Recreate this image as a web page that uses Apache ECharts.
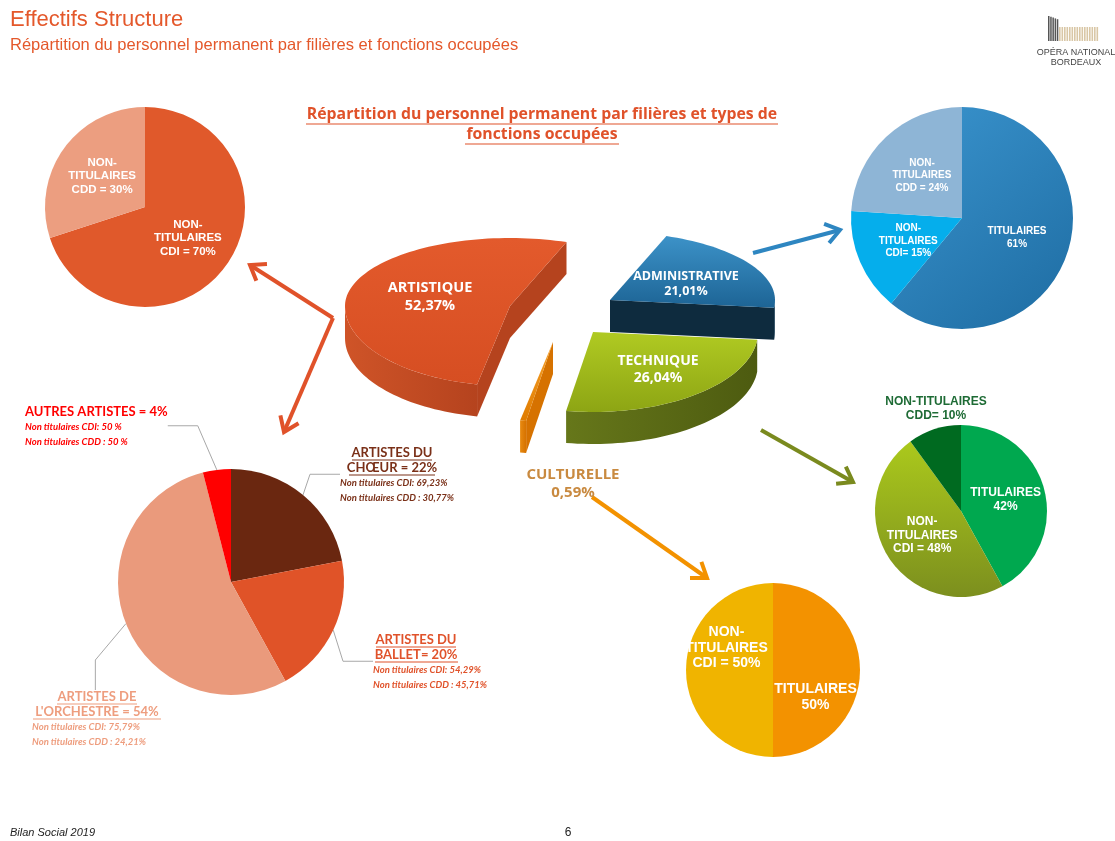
<!DOCTYPE html>
<html>
<head>
<meta charset="utf-8">
<script src="https://cdn.jsdelivr.net/npm/echarts@6/dist/echarts.min.js"></script>
<style>
html, body { margin: 0; padding: 0; background: #fff; }
#main { width: 1115px; height: 841px; }
</style>
</head>
<body>
<div id="main"></div>
<script>
// filières (camembert central)
var filieres = ['ADMINISTRATIVE', 'TECHNIQUE', 'CULTURELLE', 'ARTISTIQUE'];
var filierePcts = [21.01, 26.04, 0.59, 52.37];

// artistique : contrats
var artContrats = ['NON-\nTITULAIRES\nCDI = ', 'NON-\nTITULAIRES\nCDD = '];
var artContratPcts = [70, 30];

// administrative
var adminContrats = ['TITULAIRES\n', 'NON-\nTITULAIRES\nCDI= ', 'NON-\nTITULAIRES\nCDD = '];
var adminPcts = [61, 15, 24];

// artistique : métiers
var artMetiers = ['ARTISTES DU\nCHŒUR = ', 'ARTISTES DU\nBALLET= ', 'ARTISTES DE\nL\'ORCHESTRE = ', 'AUTRES ARTISTES = '];
var artMetierPcts = [22, 20, 54, 4];
var artMetierCDI = ['69,23%', '54,29%', '75,79%', '50 %'];
var artMetierCDD = ['30,77%', '45,71%', '24,21%', '50 %'];

// technique
var techContrats = ['TITULAIRES\n', 'NON-\nTITULAIRES\nCDI = ', 'NON-TITULAIRES\nCDD= '];
var techPcts = [42, 48, 10];

// culturelle
var cultContrats = ['TITULAIRES\n', 'NON-\nTITULAIRES\nCDI = '];
var cultPcts = [50, 50];

var chart = echarts.init(document.getElementById('main'));

// --- camembert 3D central (série custom) ---
var pie3d = { rx: 165, ryBack: 68, ryFront: 80, depth: 32, startDeg: 20 };
var filiereApex = [[610, 300], [593, 332], [553, 342], [510, 306]];
var filiereLabelShift = [[76, -16], [65, 38], [20, 142], [-80, -9]];
var filiereFontSize = [12.5, 14, 15, 14.5];
var filiereTop = [['#3C92C8', '#1D6495'], ['#B0CA22', '#8DA514'], ['#F6A12A', '#E07C00'], ['#E35A2C', '#D64E22']];
var filiereWall = ['#0E2B3E', '#4D5B10', '#D67200', '#B5431E'];
var filiereWallLight = ['#173E58', '#66771A', '#E88A10', '#CF5428'];

var acc = pie3d.startDeg;
var filiereData = filierePcts.map(function (v, i) {
    var s = acc;
    acc += v * 3.6;
    return { name: filieres[i], value: [v, s, acc] };
});

var fmtPct = function (v) {
    return v.toFixed(2).replace('.', ',') + '%';
};

var renderPie3d = function (params, api) {
    var i = params.dataIndex;
    var pct = api.value(0), a0 = api.value(1), a1 = api.value(2);
    var ax = filiereApex[i][0], ay = filiereApex[i][1];
    var d = pie3d.depth;
    var pt = function (deg, dz) {
        var r = deg * Math.PI / 180, c = Math.cos(r);
        return [ax + pie3d.rx * Math.sin(r), ay - (c > 0 ? pie3d.ryBack : pie3d.ryFront) * c + (dz || 0)];
    };
    var arc = function (from, to, dz) {
        var pts = [];
        var n = Math.max(2, Math.ceil((to - from) / 2));
        for (var k = 0; k <= n; k++) {
            pts.push(pt(from + (to - from) * k / n, dz));
        }
        return pts;
    };
    var children = [];
    // parois radiales visibles
    [[a0, a0 - 90], [a1, a1 + 90]].forEach(function (e) {
        if (Math.cos(e[1] * Math.PI / 180) < -0.01) {
            var p = pt(e[0]);
            children.push({
                type: 'polygon',
                shape: { points: [[ax, ay], p, [p[0], p[1] + d], [ax, ay + d]] },
                style: { fill: filiereWall[i] }
            });
        }
    });
    // paroi extérieure (face avant)
    [[90, 270], [450, 630]].forEach(function (w) {
        var s = Math.max(a0, w[0]), e = Math.min(a1, w[1]);
        if (e > s) {
            var top = arc(s, e, 0);
            var bot = arc(s, e, d).reverse();
            children.push({
                type: 'polygon',
                shape: { points: top.concat(bot) },
                style: {
                    fill: new echarts.graphic.LinearGradient(0, 0, 1, 0, [
                        { offset: 0, color: filiereWallLight[i] },
                        { offset: 1, color: filiereWall[i] }
                    ])
                }
            });
        }
    });
    // face supérieure
    children.push({
        type: 'polygon',
        shape: { points: [[ax, ay]].concat(arc(a0, a1, 0)) },
        style: {
            fill: new echarts.graphic.LinearGradient(0, 0, 0, 1, [
                { offset: 0, color: filiereTop[i][0] },
                { offset: 1, color: filiereTop[i][1] }
            ])
        }
    });
    // étiquette
    var sh = filiereLabelShift[i];
    children.push({
        type: 'text',
        style: {
            text: filieres[i] + '\n' + fmtPct(pct),
            x: ax + sh[0], y: ay + sh[1],
            fill: pct < 2 ? '#C98A40' : '#fff',
            font: 'bold ' + filiereFontSize[i] + 'px "Open Sans"',
            lineHeight: filiereFontSize[i] + 3,
            align: 'center', verticalAlign: 'middle',
            textAlign: 'center', textVerticalAlign: 'middle'
        }
    });
    return { type: 'group', children: children };
};

// --- graphiques ---
var arrow = function (pts, color, w) {
    var n = pts.length, tip = pts[n - 1], prev = pts[n - 2];
    var ang = Math.atan2(tip[1] - prev[1], tip[0] - prev[0]);
    var L = 17, sp = 0.62;
    var h1 = [tip[0] - L * Math.cos(ang - sp), tip[1] - L * Math.sin(ang - sp)];
    var h2 = [tip[0] - L * Math.cos(ang + sp), tip[1] - L * Math.sin(ang + sp)];
    return [
        { type: 'polyline', shape: { points: pts }, style: { stroke: color, lineWidth: w, fill: null } },
        { type: 'polyline', shape: { points: [h1, tip, h2] }, style: { stroke: color, lineWidth: w, fill: null } }
    ];
};

var underline = function (x1, x2, y, color) {
    return { type: 'line', shape: { x1: x1, y1: y, x2: x2, y2: y }, style: { stroke: color, lineWidth: 1.2 } };
};

var txt = function (text, x, y, font, color, align) {
    return {
        type: 'text',
        style: {
            text: text, x: x, y: y, font: font, fill: color,
            align: align || 'left', verticalAlign: 'middle',
            textAlign: align || 'left', textVerticalAlign: 'middle'
        }
    };
};

var logo = [];
for (var b = 0; b < 5; b++) {
    logo.push({ type: 'rect', shape: { x: 1048 + b * 2.2, y: 16 + b * 0.8, width: 1.5, height: 25 - b * 0.8 }, style: { fill: '#555' } });
}
for (var b2 = 0; b2 < 16; b2++) {
    logo.push({ type: 'rect', shape: { x: 1059 + b2 * 2.5, y: 27, width: 1.6, height: 14 }, style: { fill: '#D9C7A6' } });
}

var graphics = [
    txt('Effectifs Structure', 10, 20, '22px "Liberation Sans"', '#E4582B'),
    txt('Répartition du personnel permanent par filières et fonctions occupées', 10, 45, '16.5px "Liberation Sans"', '#E4582B'),
    txt('OPÉRA NATIONAL', 1076, 53, '9px "Liberation Sans"', '#444', 'center'),
    txt('BORDEAUX', 1076, 63, '9px "Liberation Sans"', '#444', 'center'),
    txt('Répartition du personnel permanent par filières et types de', 542, 114, 'bold 15.8px "Open Sans"', '#E0522A', 'center'),
    txt('fonctions occupées', 542, 134, 'bold 15.8px "Open Sans"', '#E0522A', 'center'),
    underline(306, 778, 124, '#E0522A'),
    underline(465, 619, 144, '#E0522A'),
    txt('NON-TITULAIRES', 936, 402, 'bold 12px "Liberation Sans"', '#1E6B35', 'center'),
    txt('CDD= 10%', 936, 416, 'bold 12px "Liberation Sans"', '#1E6B35', 'center'),
    txt('Bilan Social 2019', 10, 833, 'italic 11px "Liberation Sans"', '#222'),
    txt('6', 568, 833, '12px "Liberation Sans"', '#222', 'center'),
    // soulignement des titres des métiers artistiques
    underline(352, 432, 460, '#7A3018'),
    underline(349, 435, 475, '#7A3018'),
    underline(376, 456, 647, '#E0522A'),
    underline(375, 458, 662, '#E0522A'),
    underline(57, 137, 704, '#EE9D7E'),
    underline(33, 161, 719, '#EE9D7E')
].concat(logo)
 .concat(arrow([[333, 318], [250, 265]], '#E0522A', 4))
 .concat(arrow([[333, 318], [284, 432]], '#E0522A', 4))
 .concat(arrow([[753, 253], [840, 230]], '#2E86C1', 4))
 .concat(arrow([[761, 430], [853, 482]], '#7A8A1E', 4))
 .concat(arrow([[592, 497], [707, 578]], '#F39200', 4));

var insideLabel = function (size, lh) {
    return {
        position: 'inside',
        color: '#fff',
        fontFamily: 'Liberation Sans',
        fontWeight: 'bold',
        fontSize: size,
        lineHeight: lh,
        formatter: function (p) { return p.name + p.value + '%'; }
    };
};

var mkData = function (names, values, colors) {
    return values.map(function (v, i) {
        return { name: names[i], value: v, itemStyle: { color: colors[i] } };
    });
};

var metierColors = ['#6A2710', '#E05328', '#EA9A7C', '#FF0000'];
var metierTitleColors = ['#7A3018', '#E0522A', '#EE9D7E', '#FF0000'];
var metierLabelPos = [[340, 445], [373, 632], [32, 689], [25, 404]];
var metierLabelWidth = [104, 86, 130, 160];
var metierRich = {};
metierTitleColors.forEach(function (c, i) {
    metierRich['t' + i] = { color: c, fontFamily: 'Lato', fontWeight: 'bold', fontSize: 13, lineHeight: 15, align: i === 3 ? 'left' : 'center' };
    metierRich['d' + i] = { color: c, fontFamily: 'Lato', fontStyle: 'italic', fontWeight: 'bold', fontSize: 9.5, lineHeight: 15, align: 'left' };
});

var option = {
    backgroundColor: '#fff',
    animation: false,
    graphic: { elements: graphics },
    series: [
        {
            type: 'custom',
            coordinateSystem: 'none',
            renderItem: renderPie3d,
            data: filiereData
        },
        {
            type: 'pie',
            center: [145, 207],
            radius: 100,
            startAngle: 90,
            label: insideLabel(11.5, 13.5),
            labelLine: { show: false },
            data: mkData(artContrats, artContratPcts, ['#E0592B', '#EC9E80'])
        },
        {
            type: 'pie',
            center: [962, 218],
            radius: 111,
            startAngle: 90,
            label: insideLabel(10, 12.5),
            labelLine: { show: false },
            data: mkData(adminContrats, adminPcts, [
                new echarts.graphic.LinearGradient(0, 0, 1, 1, [{ offset: 0, color: '#3A94CE' }, { offset: 1, color: '#1E6CA2' }]),
                '#05AEEC', '#8EB5D6'
            ])
        },
        {
            type: 'pie',
            center: [231, 582],
            radius: 113,
            startAngle: 90,
            label: {
                show: true,
                position: 'outside',
                overflow: 'none',
                rich: metierRich,
                formatter: function (p) {
                    var i = p.dataIndex;
                    var lines = artMetiers[i].split('\n');
                    lines[lines.length - 1] += p.value + '%';
                    var out = lines.map(function (l) { return '{t' + i + '|' + l + '}'; });
                    out.push('{d' + i + '|Non titulaires CDI: ' + artMetierCDI[i] + '}');
                    out.push('{d' + i + '|Non titulaires CDD : ' + artMetierCDD[i] + '}');
                    return out.join('\n');
                }
            },
            labelLine: { show: true, lineStyle: { color: '#A8A8A8', width: 1 } },
            labelLayout: function (p) {
                var pos = metierLabelPos[p.dataIndex];
                return { x: pos[0], y: pos[1], align: 'left', verticalAlign: 'top' };
            },
            data: mkData(artMetiers, artMetierPcts, metierColors).map(function (d, i) {
                d.label = { width: metierLabelWidth[i] };
                return d;
            })
        },
        {
            type: 'pie',
            center: [961, 511],
            radius: 86,
            startAngle: 90,
            label: insideLabel(12, 13.5),
            labelLine: { show: false },
            data: mkData(techContrats, techPcts, [
                '#00A84F',
                new echarts.graphic.LinearGradient(0, 0, 0, 1, [{ offset: 0, color: '#ABC91C' }, { offset: 1, color: '#7C8F1E' }]),
                '#006A20'
            ]).map(function (d, i) {
                if (i === 2) d.label = { show: false };
                return d;
            })
        },
        {
            type: 'pie',
            center: [773, 670],
            radius: 87,
            startAngle: 90,
            label: insideLabel(14, 15.5),
            labelLine: { show: false },
            data: mkData(cultContrats, cultPcts, ['#F39200', '#F0B400']).map(function (d, i) {
                d.label = { offset: i === 0 ? [-4, 27] : [0, -22] };
                return d;
            })
        }
    ]
};

chart.setOption(option);
</script>
</body>
</html>
